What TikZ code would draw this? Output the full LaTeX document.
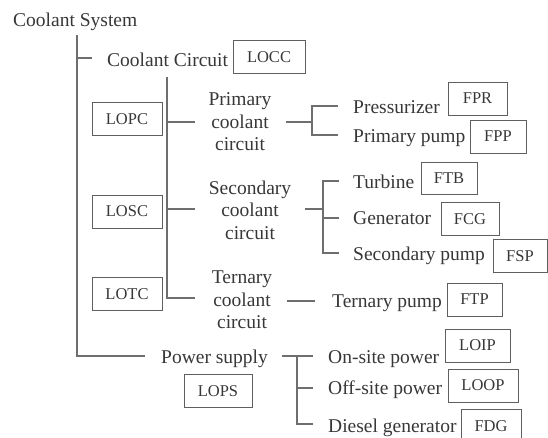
\documentclass[tikz,border=0pt]{standalone}
\usepackage{fontspec}
\setmainfont{Liberation Serif}
\usepackage{xcolor}
\usepackage{tikz}
\usetikzlibrary{positioning}
\definecolor{InkGray}{RGB}{55,55,55}
\definecolor{LineGray}{RGB}{110,110,110}
\definecolor{BoxGray}{RGB}{95,95,95}

\begin{document}
\begin{tikzpicture}[x=1pt, y=-1pt,
		lbl/.style={font=\fontsize{19.5}{22.5}\selectfont, text=InkGray, inner sep=0pt, align=center},
		tag/.style={draw=BoxGray, line width=0.9pt, font=\fontsize{16.5}{19}\selectfont, text=InkGray, minimum height=33pt, inner sep=0pt},
		link/.style={draw=LineGray, line width=1.1pt}]
			\clip (0,0) rectangle (548,438);
			\node[lbl, anchor=base west] (sys) at (13,27) {Coolant System};
			\node[lbl, anchor=base west] (cc) at (107,67) {Coolant Circuit};
			\node[tag, minimum width=72pt] (locc) at (269,57) {LOCC};
			\begin{scope}
				\node[lbl] (pcc) at (240,122) {Primary\\coolant\\circuit};
				\node[lbl] (scc) at (250,210) {Secondary\\coolant\\circuit};
				\node[lbl] (tcc) at (242,300) {Ternary\\coolant\\circuit};
				\node[tag, minimum width=70pt] (lopc) at (127,119) {LOPC};
				\node[tag, minimum width=70pt] (losc) at (127,211.5) {LOSC};
				\node[tag, minimum width=70pt] (lotc) at (127,294) {LOTC};
			\end{scope}
			\begin{scope}
				\node[lbl, anchor=base west] (pr) at (353,114) {Pressurizer};
				\node[lbl, anchor=base west] (pp) at (353,143) {Primary pump};
				\node[tag, minimum width=59pt] (fpr) at (477.5,98.5) {FPR};
				\node[tag, minimum width=56pt] (fpp) at (498,136.5) {FPP};
				\node[lbl, anchor=base west] (tb) at (353,189) {Turbine};
				\node[lbl, anchor=base west] (gen) at (353,225) {Generator};
				\node[lbl, anchor=base west] (sp) at (353,260) {Secondary pump};
				\node[tag, minimum width=56pt, minimum height=32pt] (ftb) at (449,178) {FTB};
				\node[tag, minimum width=58pt] (fcg) at (470,219) {FCG};
				\node[tag, minimum width=54pt] (fsp) at (520,256) {FSP};
				\node[lbl, anchor=base west] (tp) at (332,307) {Ternary pump};
				\node[tag, minimum width=55pt] (ftp) at (474.5,299.5) {FTP};
			\end{scope}
			\begin{scope}
				\node[lbl, anchor=base west] (ps) at (161,363) {Power supply};
				\node[tag, minimum width=68pt] (lops) at (218,391) {LOPS};
				\node[lbl, anchor=base west] (onp) at (328,363) {On-site power};
				\node[lbl, anchor=base west] (offp) at (328,394) {Off-site power};
				\node[lbl, anchor=base west] (dg) at (328,432) {Diesel generator};
				\node[tag, minimum width=65pt] (loip) at (477.5,345.5) {LOIP};
				\node[tag, minimum width=70pt] (loop) at (483,385.5) {LOOP};
				\node[tag, minimum width=60pt, minimum height=34pt] (fdg) at (491,426) {FDG};
			\end{scope}
			\coordinate (sysTop) at (77,35);
			\coordinate (sysCc) at (77,58);
			\coordinate (ccEnd) at (92,58);
			\coordinate (psEnd) at (145,356);
			\draw[link] (sysTop) |- (psEnd);
			\draw[link] (sysCc) -- (ccEnd);
			\coordinate (ccTop) at (167,77);
			\coordinate (ccP) at (167,122);
			\coordinate (ccS) at (167,209);
			\coordinate (pccEnd) at (195,122);
			\coordinate (sccEnd) at (195,209);
			\coordinate (tccEnd) at (195,298);
			\draw[link] (ccTop) |- (tccEnd);
			\draw[link] (ccP) -- (pccEnd);
			\draw[link] (ccS) -- (sccEnd);
			\coordinate (pccOut) at (286,122);
			\coordinate (pccJ) at (312,122);
			\coordinate (prEnd) at (338,106);
			\coordinate (ppEnd) at (338,135);
			\draw[link] (pccOut) -- (pccJ);
			\draw[link] (prEnd) -| (pccJ) |- (ppEnd);
			\coordinate (sccOut) at (305,209);
			\coordinate (sccJ) at (323,209);
			\coordinate (tbEnd) at (339,181);
			\coordinate (genEnd) at (339,218);
			\coordinate (spEnd) at (339,253);
			\draw[link] (sccOut) -- (sccJ);
			\draw[link] (tbEnd) -| (sccJ) |- (spEnd);
			\draw[link] (genEnd) -- (genEnd -| sccJ);
			\coordinate (tccOut) at (287,301);
			\coordinate (tpEnd) at (315,301);
			\draw[link] (tccOut) -- (tpEnd);
			\coordinate (psOut) at (282,356);
			\coordinate (psJ) at (297,356);
			\coordinate (onpEnd) at (313,356);
			\coordinate (offpEnd) at (313,388);
			\coordinate (dgEnd) at (313,424);
			\draw[link] (psOut) -- (onpEnd);
			\draw[link] (psJ) |- (dgEnd);
			\draw[link] (offpEnd) -- (offpEnd -| psJ);
		\end{tikzpicture}
\end{document}
